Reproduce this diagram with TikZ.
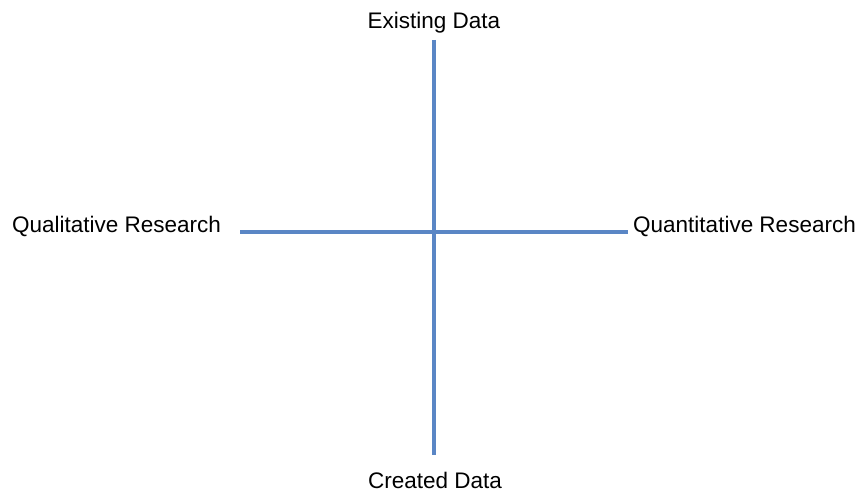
\documentclass[tikz,border=0pt]{standalone}
\usepackage{fontspec}
\setmainfont{Liberation Sans}
\usepackage{tikz}
\definecolor{axisblue}{RGB}{90,134,197}

\begin{document}
\begin{tikzpicture}[x=1pt,y=-1pt,
    axislabel/.style={inner sep=0pt,font=\fontsize{22.5}{27}\selectfont},
    axisline/.style={draw=axisblue,line width=4pt}]
    \useasboundingbox[fill=white] (0,0) rectangle (860,492);

    % the two axes
    \coordinate (ax-top) at (434,40);
    \coordinate (ax-bot) at (434,455);
    \coordinate (ax-left) at (240,232);
    \coordinate (ax-right) at (628,232);

    \path (434,29) node[axislabel,anchor=base] (exist-data) {Existing Data};
    \path (435,488) node[axislabel,anchor=base] (created-data) {Created Data};
    \path (12,233) node[axislabel,anchor=base west] (qual-res) {Qualitative Research};
    \path (633,233) node[axislabel,anchor=base west] (quant-res) {Quantitative Research};

    \draw[axisline] (ax-left) -- (ax-right);
    \draw[axisline] (ax-top) -- (ax-bot);
\end{tikzpicture}
\end{document}
